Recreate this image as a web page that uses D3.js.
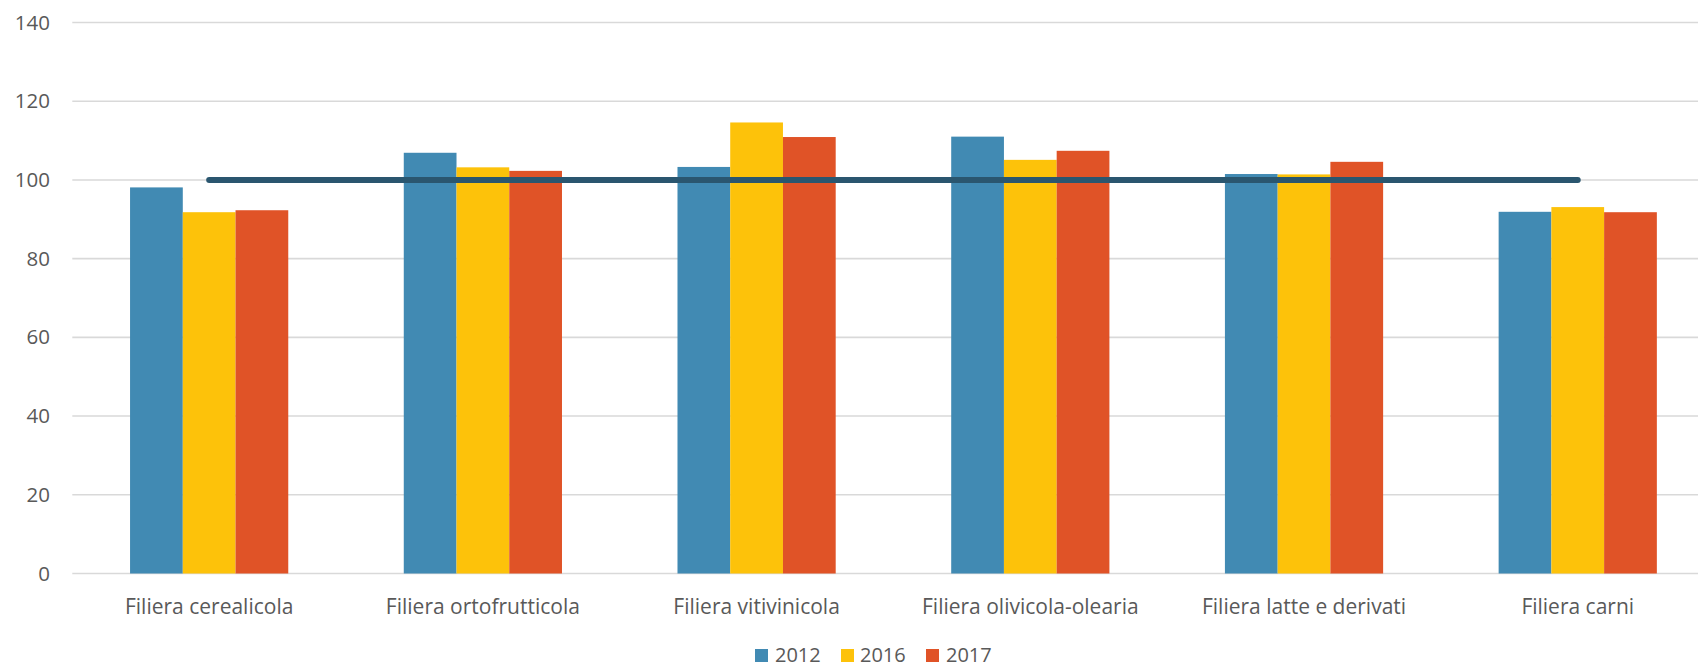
<!DOCTYPE html>
<html>
<head>
<meta charset="utf-8">
<script src="https://cdn.jsdelivr.net/npm/d3@7"></script>
<style>
  html, body { margin: 0; padding: 0; background: #fff; overflow: hidden; }
  text { font-family: "Open Sans", sans-serif; fill: #595959; }
</style>
</head>
<body>
<svg id="chart" width="1698" height="668"></svg>
<script>
const categories = ["Filiera cerealicola", "Filiera ortofrutticola", "Filiera vitivinicola",
  "Filiera olivicola-olearia", "Filiera latte e derivati", "Filiera carni"];
const seriesNames = ["2012", "2016", "2017"];
const values2012 = [98.1, 106.9, 103.3, 111.0, 101.5, 91.9];
const values2016 = [91.8, 103.2, 114.6, 105.1, 101.4, 93.1];
const values2017 = [92.3, 102.3, 110.9, 107.4, 104.6, 91.8];
const lineValues = [100, 100, 100, 100, 100, 100];
const yTicks = [0, 20, 40, 60, 80, 100, 120, 140];
const colors = ["#418AB3", "#FDC20A", "#E05327"];
const lineColor = "#2A566F";

const series = [values2012, values2016, values2017];
const svg = d3.select("#chart");
const FONT = "'Open Sans', sans-serif";

const x0 = 72.3, x1 = 1714.6, yBottom = 573.5, yTop = 22.5;
const x = d3.scaleBand().domain(categories).range([x0, x1]).paddingInner(0.422).paddingOuter(0.211);
const xs = d3.scaleBand().domain(seriesNames).range([0, x.bandwidth()]);
const y = d3.scaleLinear().domain([0, 140]).range([yBottom, yTop]);

// gridlines
svg.append("g").selectAll("line").data(yTicks).join("line")
  .attr("x1", x0).attr("x2", x1)
  .attr("y1", d => y(d)).attr("y2", d => y(d))
  .attr("stroke", "#d9d9d9").attr("stroke-width", 1.6);

// y labels
const yAxis = d3.axisLeft(y).tickValues(yTicks).tickSize(0).tickPadding(0);
const yg = svg.append("g").attr("transform", `translate(50,0)`).call(yAxis);
yg.select(".domain").remove();
yg.selectAll("text").attr("font-size", 20.5).style("font-family", FONT).attr("fill", "#595959");

// bars
const groups = svg.append("g").selectAll("g").data(categories).join("g")
  .attr("transform", c => `translate(${x(c)},0)`);
groups.selectAll("rect").data((c, i) => series.map((s, k) => ({ k, v: s[i] }))).join("rect")
  .attr("x", d => xs(seriesNames[d.k]))
  .attr("width", xs.bandwidth())
  .attr("y", d => y(d.v))
  .attr("height", d => y(0) - y(d.v))
  .attr("fill", d => colors[d.k]);

// reference line
const line = d3.line().x((d, i) => x(categories[i]) + x.bandwidth() / 2).y(d => y(d));
svg.append("path").datum(lineValues).attr("d", line)
  .attr("fill", "none").attr("stroke", lineColor).attr("stroke-width", 6)
  .attr("stroke-linecap", "round").attr("stroke-linejoin", "round");

// x labels
const xAxis = d3.axisBottom(x).tickSize(0).tickPadding(0);
const xg = svg.append("g").attr("transform", `translate(0,${yBottom})`).call(xAxis);
xg.select(".domain").remove();
xg.selectAll("text").attr("font-size", 21).attr("dy", null).attr("y", 40)
  .style("font-family", FONT).attr("fill", "#595959");

// legend
const legendItems = [
  { name: seriesNames[0], color: colors[0], sx: 755, tx: 775 },
  { name: seriesNames[1], color: colors[1], sx: 841, tx: 860 },
  { name: seriesNames[2], color: colors[2], sx: 926, tx: 946 }
];
const lg = svg.append("g");
lg.selectAll("rect").data(legendItems).join("rect")
  .attr("x", d => d.sx).attr("y", 649).attr("width", 13).attr("height", 13)
  .attr("fill", d => d.color);
lg.selectAll("text").data(legendItems).join("text")
  .attr("x", d => d.tx).attr("y", 662).attr("font-size", 20)
  .style("font-family", FONT)
  .text(d => d.name);
</script>
</body>
</html>
